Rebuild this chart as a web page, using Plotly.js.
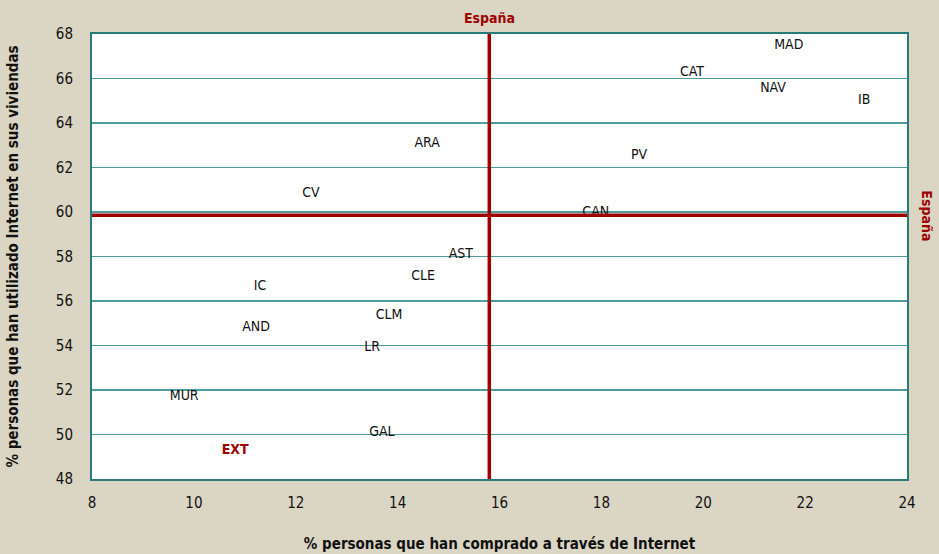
<!DOCTYPE html>
<html>
<head>
<meta charset="utf-8">
<script src="https://cdn.plot.ly/plotly-3.0.1.min.js"></script>
<style>
  body { margin: 0; background: #dbd5c3; }
  #chart { width: 939px; height: 554px; }
</style>
</head>
<body>
<div id="chart"></div>
<script>
// Regions: % bought online (x) vs % used Internet at home (y)
const regions = ['MAD', 'CAT', 'NAV', 'IB', 'PV', 'CAN', 'ARA', 'CV', 'AST', 'CLE',
                 'IC', 'CLM', 'AND', 'LR', 'MUR', 'GAL', 'EXT'];
const compra = [21.68, 19.78, 21.37, 23.16, 18.74, 17.89, 14.58, 12.30, 15.24, 14.50,
                11.30, 13.83, 11.22, 13.50, 9.81, 13.69, 10.81];
const uso = [67.5, 66.25, 65.53, 64.99, 62.52, 60.0, 63.1, 60.81, 58.11, 57.12,
             56.63, 55.33, 54.83, 53.89, 51.69, 50.11, 49.30];

// Spain averages
const espCompra = 15.8;
const espUso = 59.85;

const red = '#a00000';
const font = 'Tahoma, "DejaVu Sans Condensed", "DejaVu Sans", sans-serif';

const labelColors = regions.map(r => r === 'EXT' ? red : '#111');
const labelText = regions.map(r => r === 'EXT' ? '<b>' + r + '</b>' : r);

const trace = {
    x: compra,
    y: uso,
    text: labelText,
    mode: 'text',
    type: 'scatter',
    textposition: 'middle center',
    textfont: {family: font, size: 14, color: labelColors},
    hoverinfo: 'x+y+text',
    showlegend: false
};

const layout = {
    width: 939,
    height: 554,
    paper_bgcolor: '#dbd5c3',
    plot_bgcolor: '#ffffff',
    margin: {l: 92, r: 32, t: 34, b: 75},
    font: {family: font, color: '#111'},
    xaxis: {
        range: [8, 24],
        dtick: 2,
        showgrid: false,
        zeroline: false,
        showline: true,
        linecolor: '#2b7b7b',
        linewidth: 2,
        mirror: true,
        ticks: '',
        ticklabelstandoff: 9,
        tickfont: {size: 15},
        title: {text: '<b>% personas que han comprado a través de Internet</b>', font: {size: 15}, standoff: 27}
    },
    yaxis: {
        range: [48, 68],
        dtick: 2,
        showgrid: true,
        gridcolor: '#4f9c9c',
        gridwidth: 1.2,
        zeroline: false,
        showline: true,
        linecolor: '#2b7b7b',
        linewidth: 2,
        mirror: true,
        ticks: '',
        ticklabelstandoff: 14,
        tickfont: {size: 15},
        title: {text: '<b>% personas que han utilizado Internet en sus viviendas</b>', font: {size: 15}, standoff: 34}
    },
    shapes: [
        {type: 'line', xref: 'x', yref: 'paper', x0: espCompra, x1: espCompra, y0: 0, y1: 1,
         line: {color: red, width: 3.5}},
        {type: 'line', xref: 'paper', yref: 'y', x0: 0, x1: 1, y0: espUso, y1: espUso,
         line: {color: red, width: 3.5}}
    ],
    annotations: [
        {text: '<b>España</b>', xref: 'x', yref: 'paper', x: espCompra, y: 1, yshift: 26,
         showarrow: false, font: {size: 14, color: red}},
        {text: '<b>España</b>', xref: 'paper', yref: 'y', x: 1, y: espUso, xshift: 30,
         showarrow: false, textangle: 90, font: {size: 14, color: red}}
    ]
};

Plotly.newPlot('chart', [trace], layout, {displayModeBar: false, staticPlot: true});
</script>
</body>
</html>
